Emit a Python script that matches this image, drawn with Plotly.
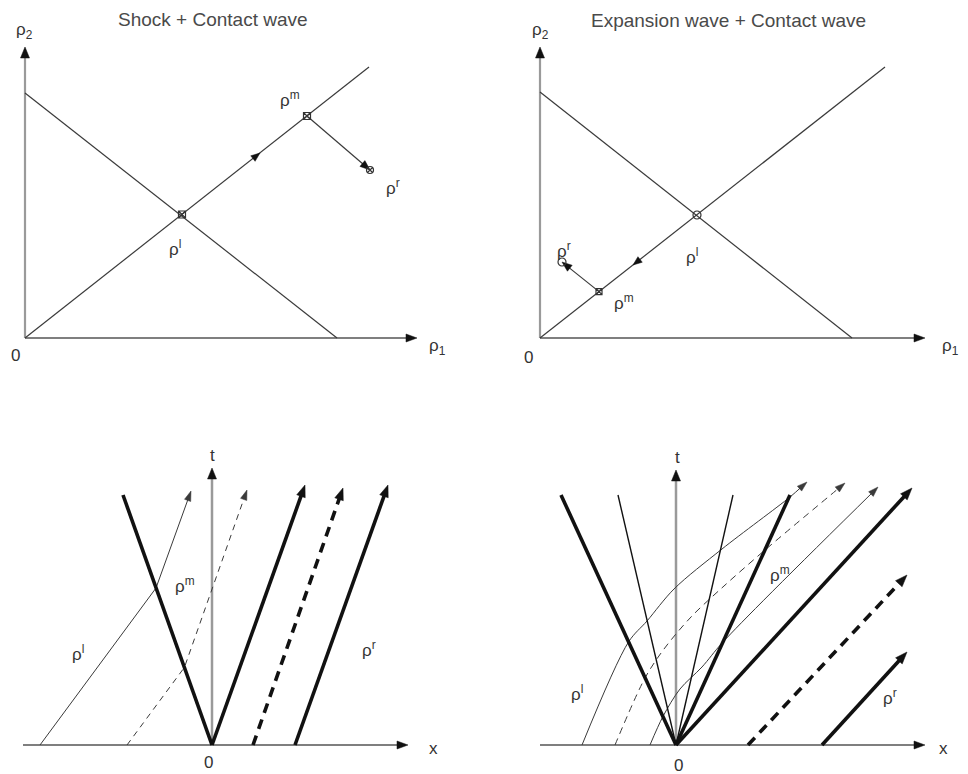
import math
import plotly.graph_objects as go

FONT = "Liberation Sans, Arial, Helvetica, sans-serif"
TXT = "#333333"

# ---------------- data (diagram units) ----------------
# Panel A (top-left): Shock + Contact wave in the (rho1, rho2) plane
A_title = "Shock + Contact wave"
A_rho1_axis = [0.0, 39.2]
A_rho2_axis = [0.0, 29.1]
A_dec_x = [0.0, 31.2]
A_dec_y = [24.5, 0.0]
A_inc_x = [0.0, 34.4]
A_inc_y = [0.0, 27.1]
A_rho_l = [15.7, 12.35]
A_rho_m = [28.2, 22.2]
A_rho_r = [34.5, 16.8]
A_mid_arrow = [23.5, 18.5]

# Panel B (top-right): Expansion wave + Contact wave in the (rho1, rho2) plane
B_title = "Expansion wave + Contact wave"
B_rho1_axis = [0.0, 38.5]
B_rho2_axis = [0.0, 29.1]
B_dec_x = [0.0, 31.2]
B_dec_y = [24.6, 0.0]
B_inc_x = [0.0, 34.5]
B_inc_y = [0.0, 27.1]
B_rho_l = [15.7, 12.3]
B_rho_m = [5.9, 4.64]
B_rho_r = [2.2, 7.6]
B_mid_arrow = [9.3, 7.3]

# Panel C (bottom-left): (x, t) plane, shock + contact
C_x_axis = [-18.9, 19.6]
C_t_axis = [0.0, 27.7]
C_shock_x = [0.0, -8.9]
C_shock_y = [0.0, 25.0]
C_wave1_x = [0.0, 9.3]
C_wave1_y = [0.0, 26.0]
C_wave2_x = [4.1, 13.1]
C_wave2_y = [0.0, 25.7]
C_wave3_x = [8.3, 17.6]
C_wave3_y = [0.0, 26.0]
C_path1_x = [-17.2, -5.6, -2.1]
C_path1_y = [0.0, 15.7, 25.4]
C_path2_x = [-8.5, -2.76, 3.5]
C_path2_y = [0.0, 7.76, 25.5]

# Panel D (bottom-right): (x, t) plane, rarefaction + contact
D_x_axis = [-13.6, 24.9]
D_t_axis = [0.0, 27.5]
D_fan_left_x = [0.0, -11.5]
D_fan_left_y = [0.0, 25.0]
D_fan_a_x = [0.0, -5.8]
D_fan_a_y = [0.0, 25.0]
D_fan_b_x = [0.0, 5.7]
D_fan_b_y = [0.0, 25.0]
D_fan_right_x = [0.0, 11.4]
D_fan_right_y = [0.0, 25.0]
D_wave1_x = [0.0, 23.6]
D_wave1_y = [0.0, 25.7]
D_wave2_x = [7.2, 23.1]
D_wave2_y = [0.0, 17.0]
D_wave3_x = [14.6, 23.1]
D_wave3_y = [0.0, 9.3]
D_path1_x = [-9.4, -4.75, -2.9, -0.2, 4.6, 11.4, 13.1]
D_path1_y = [0.0, 10.3, 12.4, 15.6, 19.6, 24.8, 26.3]
D_path2_x = [-6.1, -3.1, -1.2, 1.5, 4.8, 8.9, 16.9]
D_path2_y = [0.0, 6.7, 9.6, 12.8, 15.9, 19.5, 26.2]
D_path3_x = [-2.6, -1.3, 0.4, 2.6, 4.7, 20.2]
D_path3_y = [0.0, 2.86, 5.6, 7.8, 10.3, 25.8]

# ---------------- drawing helpers ----------------
fig = go.Figure()
annotations = []


def axn(i):
    return ("x", "y") if i == 1 else ("x%d" % i, "y%d" % i)


def head(i, tip, frm, length, half, color):
    xa, ya = axn(i)
    dx, dy = tip[0] - frm[0], tip[1] - frm[1]
    L = math.hypot(dx, dy)
    ux, uy = dx / L, dy / L
    bx, by = tip[0] - ux * length, tip[1] - uy * length
    px, py = -uy * half, ux * half
    fig.add_trace(go.Scatter(
        x=[tip[0], bx + px, bx - px, tip[0]], y=[tip[1], by + py, by - py, tip[1]],
        mode="lines", fill="toself", fillcolor=color, line=dict(color=color, width=0.5),
        xaxis=xa, yaxis=ya, hoverinfo="skip", showlegend=False))


def line(i, xs, ys, width, color, dash="solid", arrow=None, shape="linear"):
    xa, ya = axn(i)
    xs = list(xs)
    ys = list(ys)
    if arrow:
        length, half, hcol = arrow
        tip = (xs[-1], ys[-1])
        frm = (xs[-2], ys[-2])
        dx, dy = tip[0] - frm[0], tip[1] - frm[1]
        L = math.hypot(dx, dy)
        xs[-1] = tip[0] - dx / L * length * 0.7
        ys[-1] = tip[1] - dy / L * length * 0.7
    fig.add_trace(go.Scatter(
        x=xs, y=ys, mode="lines",
        line=dict(color=color, width=width, dash=dash, shape=shape, smoothing=0.9),
        xaxis=xa, yaxis=ya, hoverinfo="skip", showlegend=False))
    if arrow:
        head(i, tip, frm, length, half, hcol)


def label(i, x, y, text, size=17, color=TXT):
    xa, ya = axn(i)
    annotations.append(dict(xref=xa, yref=ya, x=x, y=y, text=text, showarrow=False,
                            font=dict(family=FONT, size=size, color=color)))


def marker(i, pt, symbol, size=7):
    xa, ya = axn(i)
    fig.add_trace(go.Scatter(
        x=[pt[0]], y=[pt[1]], mode="markers",
        marker=dict(symbol=symbol, size=size, color="#333333", line=dict(width=1.2, color="#333333")),
        xaxis=xa, yaxis=ya, hoverinfo="skip", showlegend=False))


AX_V = "#9a9a9a"
AX_H = "#555555"
HEAD = "#111111"
THIN = "#3a3a3a"
THICK = "#111111"
TITLE_SIZE = 19

# ---------------- Panel A ----------------
line(1, [0, 0], A_rho2_axis, 2.2, AX_V, arrow=(1.1, 0.45, HEAD))
line(1, A_rho1_axis, [0, 0], 1.5, AX_H, arrow=(1.1, 0.4, HEAD))
line(1, A_dec_x, A_dec_y, 1.2, THIN)
line(1, A_inc_x, A_inc_y, 1.2, THIN)
head(1, A_mid_arrow, A_rho_l, 0.9, 0.35, HEAD)
line(1, [A_rho_m[0], A_rho_r[0]], [A_rho_m[1], A_rho_r[1]], 1.2, THIN, arrow=(1.0, 0.38, HEAD))
marker(1, A_rho_l, "square-x-open", 7)
marker(1, A_rho_m, "square-x-open", 7)
marker(1, A_rho_r, "circle-x-open", 7)
label(1, 18.8, 31.9, A_title, size=TITLE_SIZE, color="#4a4a4a")
label(1, -0.1, 30.7, "ρ<sub>2</sub>")
label(1, 41.2, -0.9, "ρ<sub>1</sub>")
label(1, -1.0, -1.7, "0")
label(1, 26.5, 23.9, "ρ<sup>m</sup>")
label(1, 15.0, 9.0, "ρ<sup>l</sup>")
label(1, 36.8, 15.1, "ρ<sup>r</sup>")

# ---------------- Panel B ----------------
line(2, [0, 0], B_rho2_axis, 2.2, AX_V, arrow=(1.1, 0.45, HEAD))
line(2, B_rho1_axis, [0, 0], 1.5, AX_H, arrow=(1.1, 0.4, HEAD))
line(2, B_dec_x, B_dec_y, 1.2, THIN)
line(2, B_inc_x, B_inc_y, 1.2, THIN)
head(2, B_mid_arrow, B_rho_l, 0.9, 0.35, HEAD)
line(2, [B_rho_m[0], B_rho_r[0]], [B_rho_m[1], B_rho_r[1]], 1.2, THIN, arrow=(1.0, 0.38, HEAD))
marker(2, B_rho_l, "circle-open", 8)
marker(2, B_rho_m, "square-x-open", 6)
marker(2, B_rho_r, "circle-open", 8)
label(2, 18.8, 31.8, B_title, size=TITLE_SIZE, color="#4a4a4a")
label(2, 0.0, 30.7, "ρ<sub>2</sub>")
label(2, 41.0, -0.9, "ρ<sub>1</sub>")
label(2, -1.2, -1.9, "0")
label(2, 2.4, 8.8, "ρ<sup>r</sup>")
label(2, 15.2, 8.2, "ρ<sup>l</sup>")
label(2, 8.4, 3.6, "ρ<sup>m</sup>")

# ---------------- Panel C ----------------
THICK_HEAD = (1.2, 0.45, THICK)
THIN_HEAD = (1.0, 0.33, THIN)
line(3, C_x_axis, [0, 0], 1.5, AX_H, arrow=(1.1, 0.4, HEAD))
line(3, [0, 0], C_t_axis, 2.5, AX_V, arrow=(1.1, 0.45, HEAD))
line(3, C_path1_x, C_path1_y, 1.0, THIN, arrow=THIN_HEAD)
line(3, C_path2_x, C_path2_y, 1.0, THIN, dash="6px,5px", arrow=THIN_HEAD)
line(3, C_shock_x, C_shock_y, 3.6, THICK)
line(3, C_wave1_x, C_wave1_y, 3.6, THICK, arrow=THICK_HEAD)
line(3, C_wave2_x, C_wave2_y, 3.6, THICK, dash="10px,7px", arrow=THICK_HEAD)
line(3, C_wave3_x, C_wave3_y, 3.6, THICK, arrow=THICK_HEAD)
label(3, 0.0, 29.0, "t")
label(3, 22.1, -0.3, "x")
label(3, -0.4, -1.7, "0")
label(3, -13.4, 9.2, "ρ<sup>l</sup>")
label(3, -2.7, 16.0, "ρ<sup>m</sup>")
label(3, 15.7, 9.6, "ρ<sup>r</sup>")

# ---------------- Panel D ----------------
line(4, D_x_axis, [0, 0], 1.5, AX_H, arrow=(1.1, 0.4, HEAD))
line(4, [0, 0], D_t_axis, 2.5, AX_V, arrow=(1.1, 0.45, HEAD))
line(4, D_path1_x, D_path1_y, 1.0, THIN, arrow=THIN_HEAD, shape="spline")
line(4, D_path2_x, D_path2_y, 1.0, THIN, dash="7px,5px", arrow=THIN_HEAD, shape="spline")
line(4, D_path3_x, D_path3_y, 1.0, THIN, arrow=THIN_HEAD, shape="spline")
line(4, D_fan_left_x, D_fan_left_y, 3.6, THICK)
line(4, D_fan_a_x, D_fan_a_y, 1.4, THICK)
line(4, D_fan_b_x, D_fan_b_y, 1.4, THICK)
line(4, D_fan_right_x, D_fan_right_y, 3.6, THICK)
line(4, D_wave1_x, D_wave1_y, 3.6, THICK, arrow=THICK_HEAD)
line(4, D_wave2_x, D_wave2_y, 3.6, THICK, dash="10px,7px", arrow=THICK_HEAD)
line(4, D_wave3_x, D_wave3_y, 3.6, THICK, arrow=THICK_HEAD)
label(4, 0.1, 28.8, "t")
label(4, 26.7, -0.3, "x")
label(4, 0.2, -2.0, "0")
label(4, -9.9, 5.2, "ρ<sup>l</sup>")
label(4, 10.4, 17.1, "ρ<sup>m</sup>")
label(4, 21.4, 4.8, "ρ<sup>r</sup>")

# ---------------- layout: 10 px per diagram unit in every panel ----------------
hidden = dict(visible=False, showgrid=False, zeroline=False, fixedrange=True)
fig.update_layout(
    width=968, height=774,
    margin=dict(l=0, r=0, t=0, b=0),
    paper_bgcolor="white", plot_bgcolor="white",
    showlegend=False,
    annotations=annotations,
    xaxis=dict(domain=[0, 0.5], range=[-2.5, 45.9], anchor="y", **hidden),
    yaxis=dict(domain=[0.5, 1], range=[-4.9, 33.8], anchor="x", **hidden),
    xaxis2=dict(domain=[0.5, 1], range=[-5.6, 42.8], anchor="y2", **hidden),
    yaxis2=dict(domain=[0.5, 1], range=[-4.9, 33.8], anchor="x2", **hidden),
    xaxis3=dict(domain=[0, 0.5], range=[-21.2, 27.2], anchor="y3", **hidden),
    yaxis3=dict(domain=[0, 0.5], range=[-2.9, 35.8], anchor="x3", **hidden),
    xaxis4=dict(domain=[0.5, 1], range=[-19.2, 29.2], anchor="y4", **hidden),
    yaxis4=dict(domain=[0, 0.5], range=[-2.9, 35.8], anchor="x4", **hidden),
)

fig.write_html(
    "out.html",
    config={"displayModeBar": False},
    post_script="document.body.style.margin='0';document.body.style.overflow='hidden';",
)
